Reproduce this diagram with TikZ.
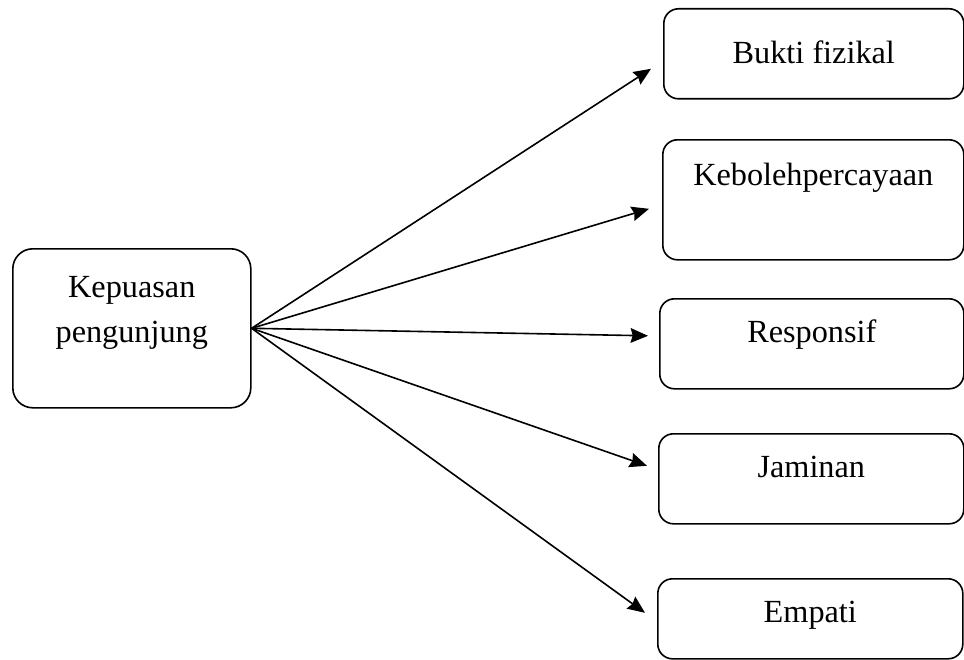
\documentclass[tikz,border=0pt]{standalone}
\usepackage{fontspec}
\setmainfont{Liberation Serif}
\usetikzlibrary{arrows.meta}

\tikzset{
    kotak/.style={draw, line width=1.2pt, rounded corners=11pt, inner sep=0pt,
        font=\fontsize{24.2}{33.75}\selectfont},
    panah/.style={line width=1.2pt, -{Stealth[length=13pt,width=11pt,inset=1.5pt]}}
}

\begin{document}
\begin{tikzpicture}[x=0.75pt,y=0.75pt,yscale=-1,xscale=1]
            \useasboundingbox (0,0) rectangle (964,660);
            % Left Node
            \node [kotak, rounded corners=15pt, anchor=north west, minimum width=178.5pt, text height=70.5pt, text depth=48.75pt, align=center] (kepuasan) at (12,248) {Kepuasan\\pengunjung};
            % Right Nodes
            \node [kotak, anchor=north west, minimum width=225pt, text height=41.25pt, text depth=26.25pt] (bukti) at (663,8) {Bukti fizikal};
            \node [kotak, anchor=north west, minimum width=225.75pt, text height=34.5pt, text depth=55.5pt] (kebolehan) at (662,139) {Kebolehpercayaan};
            \node [kotak, anchor=north west, minimum width=228pt, text height=33pt, text depth=34.5pt] (responsif) at (659,298) {Responsif};
            \node [kotak, anchor=north west, minimum width=228.75pt, text height=33pt, text depth=34.5pt] (jaminan) at (658,433) {Jaminan};
            \node [kotak, anchor=north west, minimum width=228.75pt, text height=33pt, text depth=27pt] (empati) at (657,578) {Empati};
            % Arrows
            \draw [panah] (kepuasan.east) -- ([xshift=-9pt,yshift=11.25pt]bukti.west);
            \draw [panah] (kepuasan.east) -- ([xshift=-9.75pt,yshift=6.75pt]kebolehan.west);
            \draw [panah] (kepuasan.east) -- ([xshift=-8.25pt,yshift=-6pt]responsif.west);
            \draw [panah] (kepuasan.east) -- ([xshift=-8.25pt,yshift=-9.75pt]jaminan.west);
            \draw [panah] (kepuasan.east) -- ([xshift=-9pt,yshift=-4.5pt]empati.west);
\end{tikzpicture}
\end{document}
